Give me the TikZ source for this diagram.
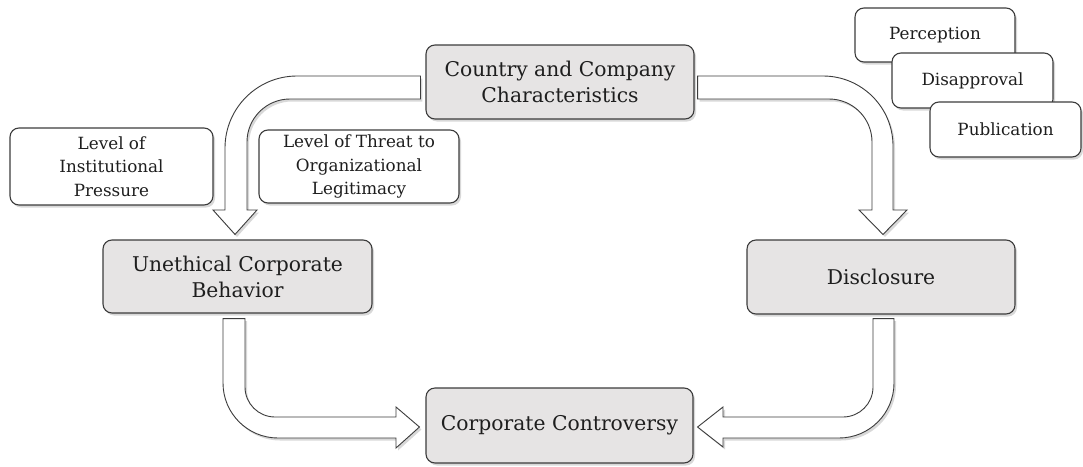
\documentclass[tikz,border=0pt]{standalone}
\usepackage{fontspec}
\setmainfont{DejaVu Serif}
\usetikzlibrary{shadows,calc}
\definecolor{boxgray}{HTML}{E6E4E4}
\definecolor{edge}{HTML}{3C3C3C}
\definecolor{txt}{HTML}{1E1E1E}
\begin{document}
\begin{tikzpicture}[x=1pt,y=-1pt,
 shade/.style={drop shadow={shadow xshift=2pt,shadow yshift=-2.5pt,opacity=0.3}},
 mainbox/.style={draw=edge,line width=1.1pt,fill=boxgray,rounded corners=9pt,inner sep=0pt,align=center,text=txt,font=\fontsize{20.3}{26}\selectfont,shade},
 sidebox/.style={draw=edge,line width=1.1pt,fill=white,rounded corners=9pt,inner sep=0pt,align=center,text=txt,font=\fontsize{16.8}{23.5}\selectfont,shade},
 fatarrow/.style={draw=edge,line width=0.9pt,fill=white,line join=miter,shade}]
\path[use as bounding box,fill=white] (0,0) rectangle (1083,466);

% boxes
\node[mainbox,minimum width=268pt,minimum height=74pt] (country) at (560,82) {Country and Company\\Characteristics};
\node[mainbox,minimum width=269pt,minimum height=73pt] (unethical) at (237.5,276.5) {Unethical Corporate\\Behavior};
\node[mainbox,minimum width=268pt,minimum height=74pt] (disclosure) at (881,277) {Disclosure};
\node[mainbox,minimum width=267pt,minimum height=75pt] (controversy) at (559.5,425.5) {Corporate Controversy};
\node[sidebox,minimum width=203pt,minimum height=77pt] (pressure) at (111.5,166.5) {Level of\\Institutional\\Pressure};
\node[sidebox,minimum width=200pt,minimum height=73pt] (threat) at (359,166.5) {Level of Threat to\\Organizational\\Legitimacy};
\node[sidebox,minimum width=160pt,minimum height=54pt] (perception) at (935,35) {Perception};
\node[sidebox,minimum width=161pt,minimum height=55pt] (disapproval) at (972.5,80.5) {Disapproval};
\node[sidebox,minimum width=151pt,minimum height=55pt] (publication) at (1005.5,129.5) {Publication};

% fat arrows
\draw[fatarrow] ($(country.west)+(-5,-6)$) -- (297,76) arc[start angle=270,end angle=180,radius=72]
  -- (225,210) -- (213,210) -- ($(unethical.north)+(-2.5,-5)$) -- (257,210) -- (247,210)
  -- (247,142) arc[start angle=180,end angle=270,radius=43] -- ($(country.west)+(-5,17)$) -- cycle;

\draw[fatarrow] ($(country.east)+(3,-6)$) -- (823,76) arc[start angle=270,end angle=360,radius=70]
  -- (893,210) -- (907,210) -- ($(disclosure.north)+(2,-5)$) -- (859,210) -- (872,210)
  -- (872,142) arc[start angle=360,end angle=270,radius=43] -- ($(country.east)+(3,17)$) -- cycle;

\draw[fatarrow] ($(unethical.south)+(-14.5,5)$) -- (223,383) arc[start angle=180,end angle=90,radius=55]
  -- (396,438) -- (396,448) -- ($(controversy.west)+(-6,1.5)$) -- (396,407) -- (396,417)
  -- (275,417) arc[start angle=90,end angle=180,radius=30] -- ($(unethical.south)+(7.5,5)$) -- cycle;

\draw[fatarrow] ($(disclosure.south)+(13,4)$) -- (894,383) arc[start angle=0,end angle=90,radius=55]
  -- (723,438) -- (723,447) -- ($(controversy.east)+(4,1.5)$) -- (723,407) -- (723,417)
  -- (843,417) arc[start angle=90,end angle=0,radius=30] -- ($(disclosure.south)+(-8,4)$) -- cycle;
\end{tikzpicture}
\end{document}
